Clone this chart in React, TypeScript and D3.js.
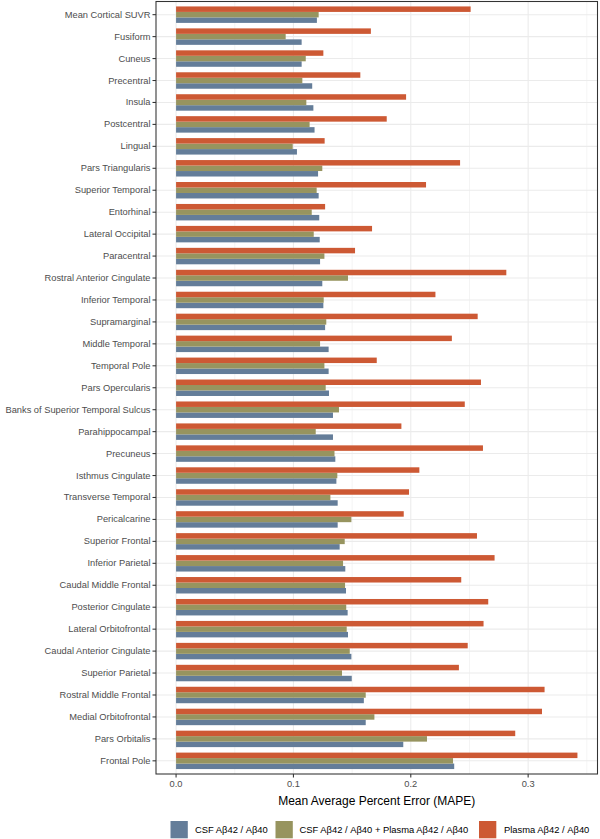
import React from "react";
import * as d3 from "d3";

const categories = [
  "Mean Cortical SUVR", "Fusiform", "Cuneus", "Precentral", "Insula", "Postcentral", "Lingual",
  "Pars Triangularis", "Superior Temporal", "Entorhinal", "Lateral Occipital", "Paracentral",
  "Rostral Anterior Cingulate", "Inferior Temporal", "Supramarginal", "Middle Temporal",
  "Temporal Pole", "Pars Opercularis", "Banks of Superior Temporal Sulcus", "Parahippocampal",
  "Precuneus", "Isthmus Cingulate", "Transverse Temporal", "Pericalcarine", "Superior Frontal",
  "Inferior Parietal", "Caudal Middle Frontal", "Posterior Cingulate", "Lateral Orbitofrontal",
  "Caudal Anterior Cingulate", "Superior Parietal", "Rostral Middle Frontal",
  "Medial Orbitofrontal", "Pars Orbitalis", "Frontal Pole",
];

const csfValues = [
  0.120, 0.107, 0.107, 0.116, 0.117, 0.118, 0.103, 0.121, 0.1215, 0.122, 0.1224, 0.1227,
  0.1246, 0.1255, 0.127, 0.130, 0.130, 0.1303, 0.1337, 0.1337, 0.1357, 0.1366, 0.1377, 0.1377,
  0.1394, 0.1442, 0.1448, 0.1462, 0.1465, 0.1494, 0.1497, 0.160, 0.1616, 0.1936, 0.237,
];

const combinedValues = [
  0.1215, 0.0934, 0.1105, 0.1076, 0.111, 0.1138, 0.0994, 0.1246, 0.1198, 0.1156, 0.1173, 0.1264,
  0.1465, 0.1258, 0.128, 0.1227, 0.1264, 0.1275, 0.1388, 0.119, 0.135, 0.1374, 0.1315, 0.1494,
  0.1437, 0.1423, 0.144, 0.145, 0.1454, 0.148, 0.1414, 0.1616, 0.169, 0.2138, 0.236,
];

const plasmaValues = [
  0.251, 0.166, 0.1255, 0.157, 0.196, 0.1795, 0.1266, 0.242, 0.213, 0.127, 0.167, 0.1525,
  0.2814, 0.221, 0.257, 0.235, 0.171, 0.2598, 0.246, 0.192, 0.2615, 0.2073, 0.1985, 0.194,
  0.2564, 0.2714, 0.243, 0.266, 0.262, 0.2485, 0.241, 0.314, 0.3118, 0.289, 0.342,
];

const seriesNames = [
  "CSF A\u03b242 / A\u03b240",
  "CSF A\u03b242 / A\u03b240 + Plasma A\u03b242 / A\u03b240",
  "Plasma A\u03b242 / A\u03b240",
];
const seriesColors = ["#647D99", "#97945F", "#CD5934"];
const seriesValues = [csfValues, combinedValues, plasmaValues];

const xTicks = [0, 0.1, 0.2, 0.3];
const xMinorTicks = [0.05, 0.15, 0.25, 0.35];
const xTitle = "Mean Average Percent Error (MAPE)";

const FONT = "'Liberation Sans', Arial, Helvetica, sans-serif";

export default function App() {
  const W = 600;
  const H = 839;
  const panel = { left: 156, right: 597.5, top: 1.5, bottom: 774 };

  const maxV = d3.max(seriesValues.flat()) as number;
  const pad = maxV * 0.05;
  const x = d3.scaleLinear().domain([-pad, maxV + pad]).range([panel.left, panel.right]);

  const y = d3.scalePoint<string>().domain(categories).range([panel.top, panel.bottom]).padding(0.6);
  const step = y.step();
  const groupW = step * 0.75;
  // top to bottom within group: plasma, combined, csf
  const inner = d3.scaleBand<number>().domain([2, 1, 0]).range([-groupW / 2, groupW / 2]);

  const legendItems = [
    { i: 0, box: 170.5, text: 195 },
    { i: 1, box: 275.5, text: 299.5 },
    { i: 2, box: 479, text: 504 },
  ];

  return (
    <svg width={W} height={H} style={{ position: "absolute", left: 0, top: 0, display: "block", background: "#fff" }}
      fontFamily={FONT}>
      <rect x={0} y={0} width={W} height={H} fill="#fff" />
      {/* grid */}
      {xMinorTicks.filter((t) => x(t) < panel.right).map((t) => (
        <line key={"mn" + t} x1={x(t)} x2={x(t)} y1={panel.top} y2={panel.bottom} stroke="#EBEBEB" strokeWidth={0.55} />
      ))}
      {categories.map((c) => (
        <line key={"hg" + c} x1={panel.left} x2={panel.right} y1={y(c)} y2={y(c)} stroke="#EBEBEB" strokeWidth={1.07} />
      ))}
      {xTicks.map((t) => (
        <line key={"mj" + t} x1={x(t)} x2={x(t)} y1={panel.top} y2={panel.bottom} stroke="#EBEBEB" strokeWidth={1.07} />
      ))}
      {/* bars */}
      {categories.map((c, ci) => (
        <g key={"g" + c}>
          {seriesValues.map((vals, si) => (
            <rect key={si} x={x(0)} width={x(vals[ci]) - x(0)}
              y={(y(c) as number) + (inner(si) as number)} height={inner.bandwidth()}
              fill={seriesColors[si]} />
          ))}
        </g>
      ))}
      {/* border */}
      <rect x={panel.left} y={panel.top} width={panel.right - panel.left} height={panel.bottom - panel.top}
        fill="none" stroke="#333333" strokeWidth={1.07} />
      {/* y axis */}
      {categories.map((c) => (
        <g key={"yl" + c}>
          <line x1={panel.left - 3.5} x2={panel.left} y1={y(c)} y2={y(c)} stroke="#333333" strokeWidth={1.07} />
          <text x={panel.left - 5.5} y={y(c)} textAnchor="end" dominantBaseline="central" fontSize={9.3} fill="#4D4D4D">{c}</text>
        </g>
      ))}
      {/* x axis */}
      {xTicks.map((t) => (
        <g key={"xt" + t}>
          <line x1={x(t)} x2={x(t)} y1={panel.bottom} y2={panel.bottom + 3.5} stroke="#333333" strokeWidth={1.07} />
          <text x={x(t)} y={panel.bottom + 9.5} textAnchor="middle" dominantBaseline="central" fontSize={9.3} fill="#4D4D4D">
            {d3.format(".1f")(t)}
          </text>
        </g>
      ))}
      <text x={(panel.left + panel.right) / 2} y={800.5} textAnchor="middle" dominantBaseline="central" fontSize={12} fill="#000">
        {xTitle}
      </text>
      {/* legend */}
      {legendItems.map((it) => (
        <g key={"lg" + it.i}>
          <rect x={it.box} y={821} width={17.3} height={17.3} fill={seriesColors[it.i]} />
          <text x={it.text} y={829.7} dominantBaseline="central" fontSize={9.4} fill="#000">{seriesNames[it.i]}</text>
        </g>
      ))}
    </svg>
  );
}
